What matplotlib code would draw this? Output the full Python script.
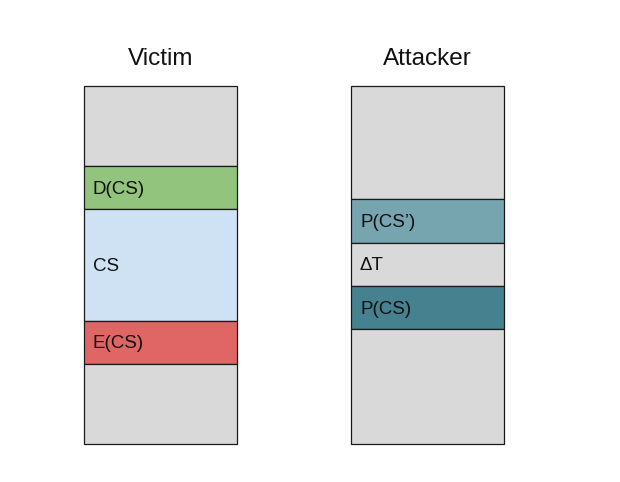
import matplotlib.pyplot as plt
from matplotlib.patches import Rectangle

plt.rcParams['font.family'] = ['Liberation Sans', 'DejaVu Sans']

# column titles and horizontal extent (pixel units of the 620x482 canvas)
titles = ['Victim', 'Attacker']
col_left = [84, 351]
col_width = 153

# segment boundaries top->bottom, labels and fill colours per column
victim_edges = [86, 166, 209, 321, 364, 444]
victim_labels = ['', 'D(CS)', 'CS', 'E(CS)', '']
victim_colors = ['#d9d9d9', '#93c47d', '#cfe2f3', '#e06666', '#d9d9d9']

attacker_edges = [86, 199, 243, 286, 329, 444]
attacker_labels = ['', 'P(CS\u2019)', '\u0394T', 'P(CS)', '']
attacker_colors = ['#d9d9d9', '#76a5af', '#d9d9d9', '#45818e', '#d9d9d9']

columns = [
    (victim_edges, victim_labels, victim_colors),
    (attacker_edges, attacker_labels, attacker_colors),
]

fig = plt.figure(figsize=(6.2, 4.82), dpi=100)
ax = fig.add_axes([0, 0, 1, 1])
ax.set_xlim(0, 620)
ax.set_ylim(482, 0)
ax.axis('off')

for i, (edges, labels, colors) in enumerate(columns):
    x0 = col_left[i]
    for j in range(len(labels)):
        top, bottom = edges[j], edges[j + 1]
        ax.add_patch(Rectangle((x0, top), col_width, bottom - top,
                               facecolor=colors[j], edgecolor='#1a1a1a',
                               linewidth=0.9))
        if labels[j]:
            ax.text(x0 + 9, (top + bottom) / 2 + 1.5, labels[j], fontsize=13.5,
                    ha='left', va='center', color='#111111')
    ax.text(x0 + col_width / 2, 59, titles[i], fontsize=17.5,
            ha='center', va='center', color='#111111')

fig.savefig('out.png', dpi=100)
